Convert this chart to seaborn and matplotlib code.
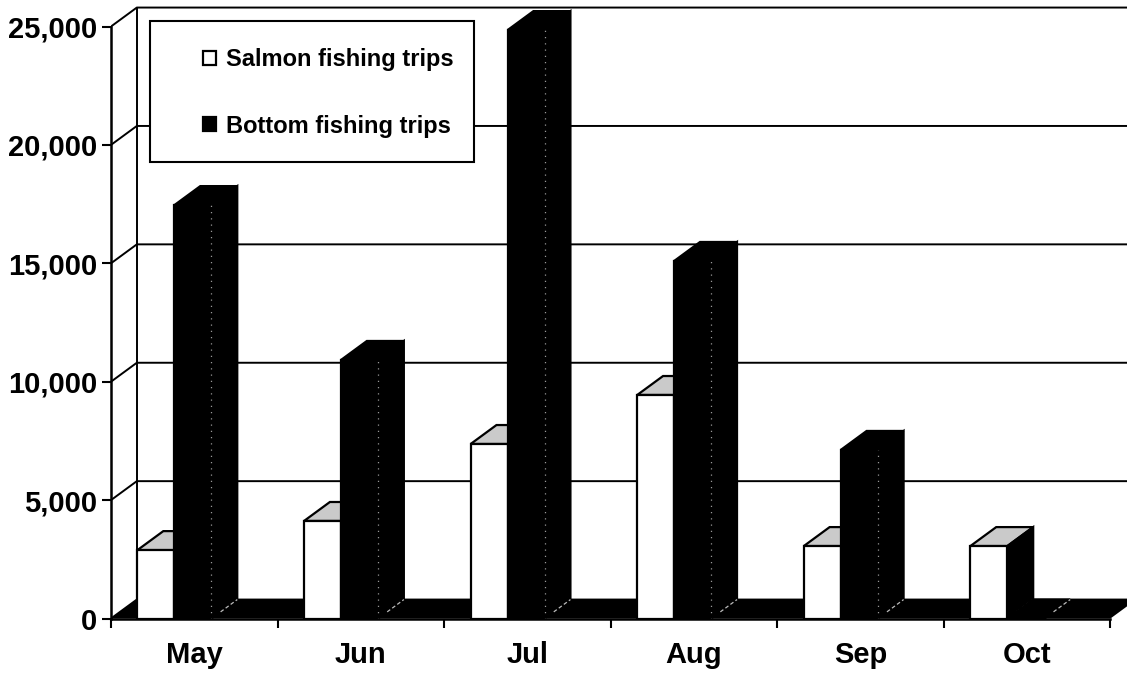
import pandas as pd
import matplotlib
matplotlib.use('Agg')
import matplotlib.pyplot as plt
from matplotlib.patches import Rectangle
from matplotlib.ticker import StrMethodFormatter
import seaborn as sns

# Values
months = ['May', 'Jun', 'Jul', 'Aug', 'Sep', 'Oct']
salmon_trips = [2890, 4120, 7370, 9440, 3060, 3060]
bottom_trips = [17460, 10920, 24850, 15100, 7120, 0]
y_ticks = [0, 5000, 10000, 15000, 20000, 25000]
series_names = ['Salmon fishing trips', 'Bottom fishing trips']

df = pd.DataFrame({
  'month': months * 2,
  'trips': salmon_trips + bottom_trips,
  'series': [series_names[0]] * 6 + [series_names[1]] * 6,
})

W, H = 1127, 674
DEPTH_X = 0.155   # depth of the fake 3D, in categories
DEPTH_Y = 800     # depth of the fake 3D, in trips
SHIFT = -0.119    # bars sit left of the category centre

sns.set_style('white')
plt.rcParams['font.family'] = ['Liberation Sans', 'DejaVu Sans']
plt.rcParams['font.weight'] = 'bold'
plt.rcParams['text.color'] = 'black'

fig = plt.figure(figsize=(W / 100, H / 100), dpi=100)
ax = fig.add_axes([111 / W, 1 - 618.5 / H, (W - 111) / W, 618.5 / H])
ax.patch.set_alpha(0)

sns.barplot(data=df, x='month', y='trips', hue='series', order=months, hue_order=series_names,
            palette=['white', 'black'], width=0.444, gap=0, saturation=1,
            edgecolor='black', linewidth=1.6, legend=False, ax=ax)

ax.set_xlim(-0.5, 5.5 + 16.5 / 166.5)
ax.set_ylim(0, 618.5 / 592 * 25000)
ax.set_xlabel('')
ax.set_ylabel('')

# Back wall and side wall
for v in y_ticks:
  ax.plot([-0.5, -0.5 + DEPTH_X, 6], [v, v + DEPTH_Y, v + DEPTH_Y], color='black', lw=1.4, zorder=1)
ax.plot([-0.5 + DEPTH_X] * 2, [DEPTH_Y, y_ticks[-1] + DEPTH_Y], color='black', lw=1.4, zorder=1)

# Black floor
ax.fill([-0.5, 5.5, 5.5 + DEPTH_X, 6, 6, -0.5 + DEPTH_X], [0, 0, DEPTH_Y, DEPTH_Y, DEPTH_Y, DEPTH_Y],
        color='black', lw=0, zorder=2)

# Shift the bars and add top and side faces
for i, container in enumerate(ax.containers):
  z = 3 + i * 2
  for p in container.patches:
    p.set_x(p.get_x() + SHIFT)
    p.set_zorder(z + 1)
    x0, x1 = p.get_x(), p.get_x() + p.get_width()
    h = p.get_height()
    top_color = '#cacaca' if i == 0 else 'black'
    ax.fill([x0, x1, x1 + DEPTH_X, x0 + DEPTH_X], [h, h, h + DEPTH_Y, h + DEPTH_Y],
            facecolor=top_color, edgecolor='black', lw=1.6, zorder=z)
    ax.fill([x1, x1 + DEPTH_X, x1 + DEPTH_X, x1], [0, DEPTH_Y, h + DEPTH_Y, h],
            facecolor='black', edgecolor='black', lw=1.6, zorder=z)
    # pale worn edges on the black faces, as in the scan
    ax.plot([x1 + 0.055, x1 + DEPTH_X], [DEPTH_Y * 0.35, DEPTH_Y], color='#bbbbbb', lw=0.9, ls=(0, (3, 2)), zorder=z + 1)
    if i == 1 and h > 0:
      ax.plot([x1, x1], [0, h], color='#999999', lw=0.9, ls=(0, (1, 4)), zorder=z + 2)

# Axes lines and ticks
sns.despine(ax=ax, top=True, right=True)
ax.spines['left'].set_bounds(0, 25000)
ax.spines['bottom'].set_bounds(-0.5, 5.5)
for s in ['left', 'bottom']:
  ax.spines[s].set_color('black')
  ax.spines[s].set_linewidth(1.8)
  ax.spines[s].set_zorder(9)

ax.set_yticks(y_ticks)
ax.yaxis.set_major_formatter(StrMethodFormatter('{x:,.0f}'))
ax.set_xticks([i - 0.5 for i in range(7)])
ax.set_xticklabels([])
ax.set_xticks(range(6), months, minor=True)
ax.tick_params(axis='y', left=True, length=6.5, width=1.5, pad=3.5, labelsize=21, color='black', labelcolor='black')
ax.tick_params(axis='x', which='major', bottom=True, length=6.5, width=1.5, color='black')
ax.tick_params(axis='x', which='minor', bottom=False, length=0, pad=16, labelsize=21, labelcolor='black')
for label in ax.get_xticklabels(minor=True) + ax.get_yticklabels():
  label.set_fontweight('bold')

# Legend box and legend
ax.add_patch(Rectangle((150 / W, 1 - 162 / H), 324 / W, 141 / H, transform=fig.transFigure,
                       facecolor='white', edgecolor='black', lw=1.5, zorder=20, clip_on=False))
leg = ax.legend(handles=list(ax.containers), labels=series_names, loc='upper left',
                bbox_to_anchor=(203 / W, 1 - 48 / H), bbox_transform=fig.transFigure,
                frameon=False, borderpad=0, borderaxespad=0, handlelength=0.55, handleheight=0.55,
                handletextpad=0.42, labelspacing=1.85, prop={'size': 17, 'weight': 'bold'})
leg.set_zorder(21)
for t in leg.get_texts():
  t.set_color('black')

fig.savefig('out.png', dpi=100)
